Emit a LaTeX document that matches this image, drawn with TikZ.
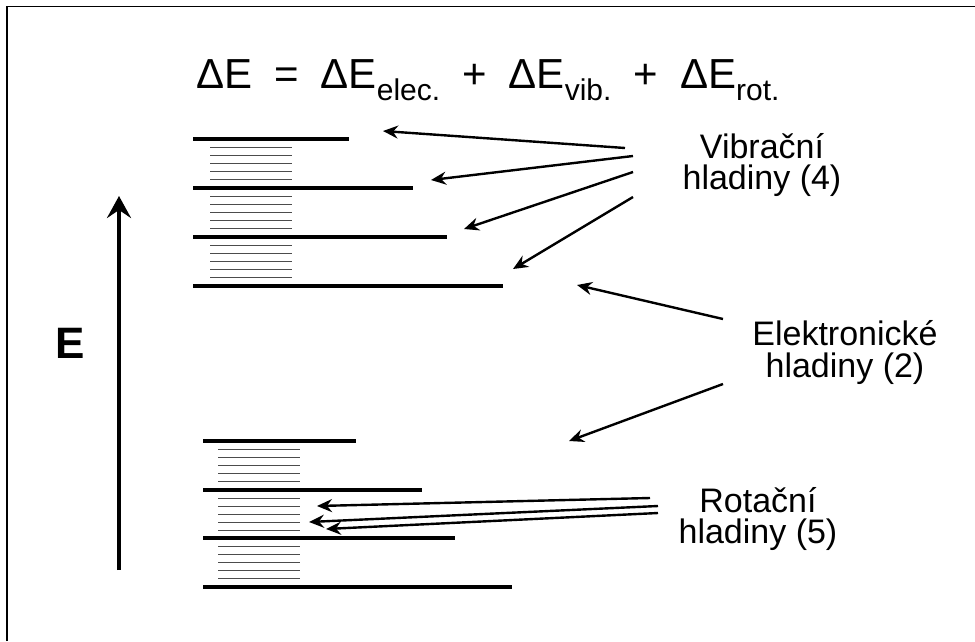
\documentclass[tikz,border=0pt]{standalone}
\usepackage{fontspec}
\setmainfont{Liberation Sans}
\usetikzlibrary{arrows.meta}

\newcommand{\lowtext}[1]{\raisebox{-12pt}{\fontsize{30}{30}\selectfont #1}}

\tikzset{
  level/.style={line width=3.4pt},
  sublevel/.style={line width=0.9pt, black!70},
  pointer/.style={line width=2.4pt, -{Stealth[length=15pt,width=13pt,inset=5pt]}},
  caption/.style={font=\fontsize{34}{31}\selectfont, align=center, inner sep=0pt, anchor=base},
}

\begin{document}
\begin{tikzpicture}[x=1pt,y=-1pt]
    \useasboundingbox (0,0) rectangle (975,641);
    % frame
    \draw[line width=1.5pt] (7,641) -- (7,6.5) -- (975,6.5);

    % formula
    \node[font=\fontsize{42}{44}\selectfont, inner sep=0pt, anchor=base west] (eq) at (196,88)
      {ΔE\hspace{22pt}=\hspace{22pt}ΔE\lowtext{elec.}\hspace{22pt}+\hspace{22pt}ΔE\lowtext{vib.}\hspace{22pt}+\hspace{22pt}ΔE\lowtext{rot.}};

    % energy axis
    \coordinate (ebot) at (119,570);
    \coordinate (etop) at (119,196);
    \draw[line width=4pt, -{Stealth[length=22pt,width=24pt,inset=8pt]}] (ebot) -- (etop);
    \node[font=\fontsize{44}{44}\selectfont\bfseries, inner sep=0pt] (elabel) at (70,343) {E};

    % upper electronic state
    \foreach \y/\xr in {139/349, 188/413, 237/447, 286/503} {
      \draw[level] (193,\y) -- (\xr,\y);
    }
    \foreach \y in {139,188,237} {
      \foreach \k in {1,...,5} {
        \draw[sublevel] (210,{\y+\k*49/6}) -- (292,{\y+\k*49/6});
      }
    }

    % lower electronic state
    \foreach \y/\xr in {441/356, 490/422, 538/455, 587/512} {
      \draw[level] (203,\y) -- (\xr,\y);
    }
    \foreach \y in {441,490,538} {
      \foreach \k in {1,...,5} {
        \draw[sublevel] (218,{\y+\k*48.5/6}) -- (300,{\y+\k*48.5/6});
      }
    }

    % labels
    \node[caption] (vib) at (762,189) {Vibrační\\hladiny (4)};
    \node[caption, font=\fontsize{34}{32}\selectfont] (elec) at (845,377) {Elektronické\\hladiny (2)};
    \node[caption] (rot) at (758,543) {Rotační\\hladiny (5)};

    % vibrational pointers
    \coordinate (vt1) at (625,148); \coordinate (vh1) at (383,131);
    \coordinate (vt2) at (633,156); \coordinate (vh2) at (431,180);
    \coordinate (vt3) at (633,172); \coordinate (vh3) at (464,229);
    \coordinate (vt4) at (633,197); \coordinate (vh4) at (513,269);
    \foreach \i in {1,...,4} {
      \draw[pointer] (vt\i) -- (vh\i);
    }

    % electronic pointers
    \coordinate (et1) at (723,319); \coordinate (eh1) at (577,285);
    \coordinate (et2) at (723,384); \coordinate (eh2) at (569,441);
    \foreach \i in {1,2} {
      \draw[pointer] (et\i) -- (eh\i);
    }

    % rotational pointers
    \coordinate (rt1) at (650,498); \coordinate (rh1) at (317,506);
    \coordinate (rt2) at (658,506); \coordinate (rh2) at (309,522);
    \coordinate (rt3) at (658,513); \coordinate (rh3) at (326,529);
    \foreach \i in {1,...,3} {
      \draw[pointer] (rt\i) -- (rh\i);
    }

\end{tikzpicture}
\end{document}
